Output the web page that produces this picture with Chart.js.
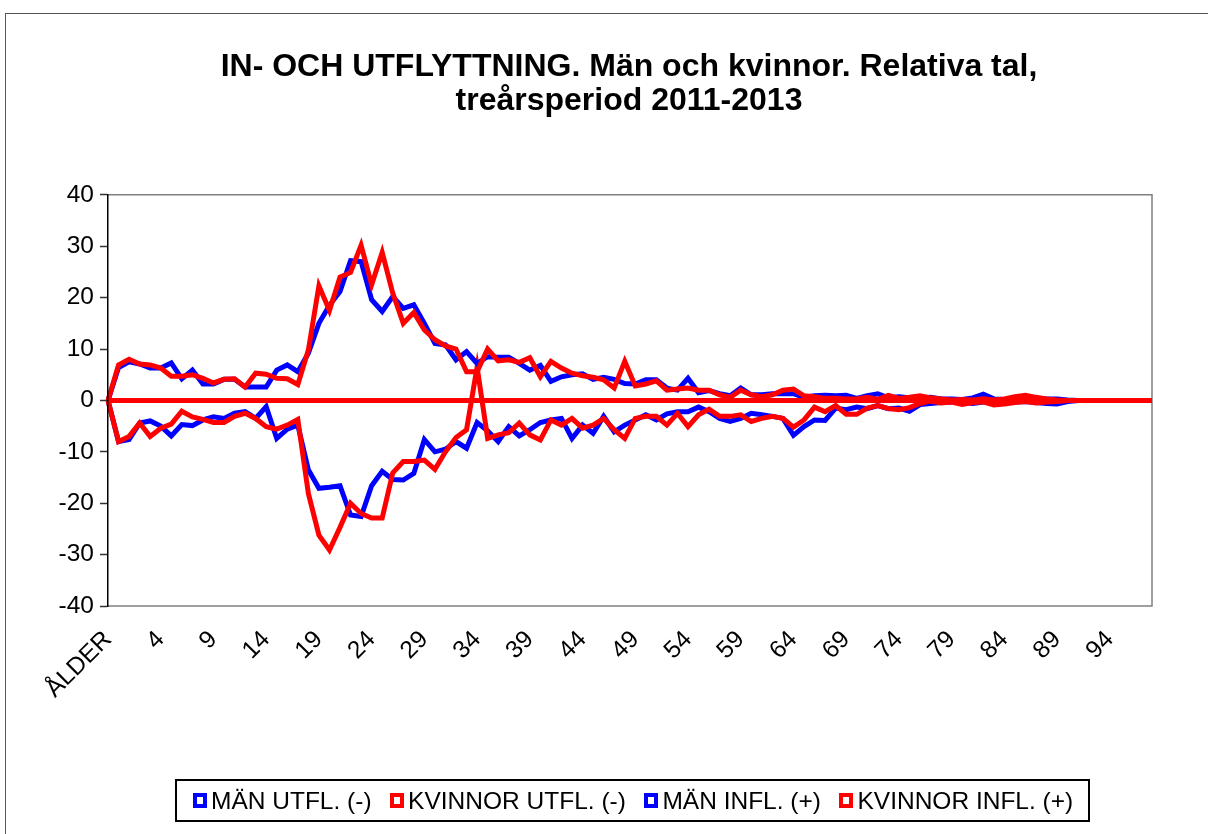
<!DOCTYPE html>
<html><head><meta charset="utf-8">
<script src="https://cdn.jsdelivr.net/npm/chart.js@4.4.1/dist/chart.umd.min.js"></script>
<style>
html,body{margin:0;padding:0;background:#fff;}
#wrap{position:relative;width:1208px;height:834px;overflow:hidden;}
#frame{position:absolute;left:5px;top:13px;width:1300px;height:900px;border-top:1px solid #555;border-left:1px solid #555;}
canvas{position:absolute;left:0;top:0;}
#legend{position:absolute;left:175px;top:779px;width:915px;height:43px;box-sizing:border-box;border:2px solid #000;display:flex;align-items:center;padding-left:16px;font-family:'Liberation Sans',Arial,sans-serif;font-size:24.5px;color:#000;white-space:nowrap;}
.item{display:flex;align-items:center;margin-right:18.5px;}
.icon{width:14px;height:15px;box-sizing:border-box;border:4px solid;background:#fff;margin-right:4px;}
</style></head>
<body><div id="wrap"><div id="frame"></div><canvas id="c" width="1208" height="834"></canvas><div id="legend"></div></div>
<script>
const TITLE_LINES = ['IN- OCH UTFLYTTNING. Män och kvinnor. Relativa tal,', 'treårsperiod 2011-2013'];
const CATEGORIES = ['ÅLDER','0','1','2','3','4','5','6','7','8','9','10','11','12','13','14','15','16','17','18','19',
 '20','21','22','23','24','25','26','27','28','29','30','31','32','33','34','35','36','37','38','39',
 '40','41','42','43','44','45','46','47','48','49','50','51','52','53','54','55','56','57','58','59',
 '60','61','62','63','64','65','66','67','68','69','70','71','72','73','74','75','76','77','78','79',
 '80','81','82','83','84','85','86','87','88','89','90','91','92','93','94','95','96','97','98'];
const SERIES_NAMES = ['MÄN UTFL. (-)', 'KVINNOR UTFL. (-)', 'MÄN INFL. (+)', 'KVINNOR INFL. (+)'];
const SERIES_COLORS = ['#0000FF', '#FF0000', '#0000FF', '#FF0000'];
const Y_TICKS = [-40,-30,-20,-10,0,10,20,30,40];

const MAN_UTFL = [0, -8.0, -7.6, -4.4, -4.0, -5.0, -6.9, -4.7, -4.9, -3.8,
 -3.2, -3.5, -2.5, -2.2, -3.5, -1.2, -7.4, -5.6, -4.8, -13.5,
 -17.1, -16.9, -16.6, -22.3, -22.6, -16.6, -13.8, -15.4, -15.5, -14.2,
 -7.6, -10.0, -9.5, -8.0, -9.3, -4.3, -5.9, -8.0, -5.1, -6.9,
 -5.7, -4.3, -3.8, -3.5, -7.4, -4.8, -6.4, -3.1, -6.1, -4.8,
 -3.8, -2.8, -3.8, -2.6, -2.2, -2.2, -1.3, -2.2, -3.5, -4.1,
 -3.5, -2.5, -2.8, -3.1, -3.5, -6.8, -5.1, -3.8, -3.9, -1.5,
 -1.8, -1.3, -1.6, -1.0, -1.6, -1.5, -2.1, -0.8, -0.6, -0.4,
 -0.3, -0.3, -0.6, -0.3, -0.2, -0.4, -0.3, -0.2, -0.4, -0.6,
 -0.7, -0.2, 0, 0, 0, 0, 0, 0, 0, 0];
const KVINNOR_UTFL = [0, -8.0, -7.0, -4.4, -7.0, -5.4, -4.6, -2.1, -3.2, -3.7,
 -4.3, -4.3, -3.1, -2.5, -3.5, -5.1, -5.6, -4.8, -3.7, -18.1,
 -26.2, -29.1, -24.7, -20.0, -22.0, -22.9, -22.9, -14.1, -11.9, -11.9,
 -11.6, -13.4, -10.0, -7.2, -5.7, 6.5, -7.4, -6.7, -6.3, -4.4,
 -6.7, -7.7, -3.8, -4.8, -3.5, -5.4, -4.8, -3.5, -5.7, -7.4,
 -3.5, -3.1, -3.1, -4.8, -2.5, -5.1, -2.8, -1.7, -3.1, -3.1,
 -2.8, -4.1, -3.5, -3.1, -3.5, -5.2, -3.8, -1.3, -2.2, -1.0,
 -2.7, -2.7, -1.5, -1.0, -1.6, -1.8, -1.4, -0.6, -0.1, -0.5,
 -0.3, -0.8, -0.4, -0.3, -0.9, -0.7, -0.4, -0.2, -0.5, -0.3,
 -0.2, 0, 0, 0, 0, 0, 0, 0, 0, 0];
const MAN_INFL = [0, 6.4, 7.5, 7.1, 6.3, 6.3, 7.3, 4.2, 5.9, 3.2,
 3.2, 4.1, 4.1, 2.6, 2.6, 2.6, 5.9, 6.9, 5.6, 9.2,
 15.0, 18.5, 21.2, 27.2, 27.0, 19.6, 17.3, 20.2, 17.9, 18.6,
 15.0, 11.1, 10.8, 7.9, 9.5, 7.2, 8.5, 8.4, 8.4, 7.2,
 5.9, 6.8, 3.7, 4.6, 5.0, 5.2, 4.1, 4.5, 4.1, 3.3,
 3.2, 4.0, 4.0, 2.4, 2.0, 4.3, 1.5, 1.9, 1.3, 0.9,
 2.4, 1.1, 1.1, 1.3, 1.3, 1.3, 0.6, 0.9, 1.0, 0.9,
 1.0, 0.4, 0.9, 1.3, 0.5, 0.7, 0.5, 0.5, 0.6, 0.3,
 0.3, 0.2, 0.5, 1.2, 0.3, 0.2, 0.2, 0.4, 0.2, 0.3,
 0.3, 0.1, 0, 0, 0, 0, 0, 0, 0, 0];
const KVINNOR_INFL = [0, 6.9, 8.0, 7.1, 6.9, 6.3, 4.7, 4.7, 5.0, 4.3,
 3.4, 4.1, 4.2, 2.6, 5.3, 5.1, 4.3, 4.2, 3.1, 9.8,
 22.3, 17.5, 24.0, 24.9, 30.2, 22.5, 28.8, 20.9, 15.0, 17.1,
 13.7, 11.8, 10.6, 10.0, 5.6, 5.6, 10.0, 7.7, 7.9, 7.4,
 8.3, 4.6, 7.6, 6.3, 5.3, 4.8, 4.5, 4.0, 2.4, 7.6,
 2.8, 3.2, 3.8, 2.0, 2.2, 2.4, 2.0, 2.0, 1.1, 0.6,
 2.0, 1.1, 0.7, 1.1, 2.0, 2.2, 0.9, 0.7, 0.4, 0.4,
 0.3, 0.3, 0.6, 0.2, 1.0, 0.4, 0.6, 0.9, 0.5, 0.3,
 0.1, 0.2, 0.1, 0.3, 0.1, 0.3, 0.7, 1.0, 0.6, 0.3,
 0.1, 0, 0, 0, 0, 0, 0, 0, 0, 0];

const SERIES_DATA = [MAN_UTFL, KVINNOR_UTFL, MAN_INFL, KVINNOR_INFL];
const FONT = "'Liberation Sans', Arial, sans-serif";

// HTML legend
const leg = document.getElementById('legend');
SERIES_NAMES.forEach((name, k) => {
  const it = document.createElement('div'); it.className = 'item';
  const ic = document.createElement('span'); ic.className = 'icon'; ic.style.borderColor = SERIES_COLORS[k];
  const tx = document.createElement('span'); tx.textContent = name;
  it.appendChild(ic); it.appendChild(tx); leg.appendChild(it);
});

const plotBorder = {
  id: 'plotBorder',
  beforeDatasetsDraw(chart) {
    const {ctx, chartArea: a} = chart;
    ctx.save();
    ctx.strokeStyle = '#808080'; ctx.lineWidth = 1.5;
    ctx.beginPath();
    ctx.moveTo(a.left, a.top); ctx.lineTo(a.right, a.top);
    ctx.lineTo(a.right, a.bottom); ctx.lineTo(a.left, a.bottom);
    ctx.stroke();
    ctx.restore();
  }
};

new Chart(document.getElementById('c'), {
  type: 'line',
  data: {
    labels: CATEGORIES,
    datasets: SERIES_NAMES.map((name, k) => ({
      label: name,
      data: SERIES_DATA[k],
      borderColor: SERIES_COLORS[k],
      backgroundColor: SERIES_COLORS[k],
      borderWidth: 5,
      pointRadius: 0,
      pointHoverRadius: 0,
      tension: 0,
      fill: false,
      order: 4 - k
    }))
  },
  options: {
    responsive: false,
    animation: false,
    devicePixelRatio: 1,
    layout: {padding: {left: 50, right: 0, top: 0, bottom: 0}},
    plugins: {
      legend: {display: false},
      tooltip: {enabled: false},
      title: {
        display: true,
        text: TITLE_LINES,
        color: '#000',
        font: {family: FONT, size: 32, weight: 'bold', lineHeight: 1.06},
        padding: {top: 50, bottom: 77}
      }
    },
    scales: {
      x: {
        type: 'category',
        offset: false,
        grid: {display: false, drawTicks: false},
        border: {display: false},
        ticks: {
          autoSkip: false, maxRotation: 45, minRotation: 45, padding: 27,
          color: '#000',
          font: {family: FONT, size: 24.5, lineHeight: 0.3},
          callback: function(v, i) { return i % 5 === 0 ? this.getLabelForValue(v) : ''; }
        },
        afterFit(s) { s.height = 228; }
      },
      y: {
        min: Y_TICKS[0], max: Y_TICKS[Y_TICKS.length - 1],
        afterBuildTicks(s) { s.ticks = Y_TICKS.map(v => ({value: v})); },
        ticks: {color: '#000', padding: 6, font: {family: FONT, size: 24.5}},
        grid: {
          z: 1,
          color: c => (c.tick && c.tick.value === 0) ? '#FF0000' : 'rgba(0,0,0,0)',
          lineWidth: c => (c.tick && c.tick.value === 0) ? 5 : 1,
          tickColor: '#333333', tickLength: 8, tickWidth: 1.5
        },
        border: {color: '#000', width: 1.5, z: 2},
        afterFit(s) { s.width = 58; }
      },
      yR: {
        position: 'right', display: true,
        grid: {display: false, drawTicks: false},
        ticks: {display: false},
        border: {display: false},
        afterFit(s) { s.width = 56; }
      }
    }
  },
  plugins: [plotBorder]
});
</script></body></html>
